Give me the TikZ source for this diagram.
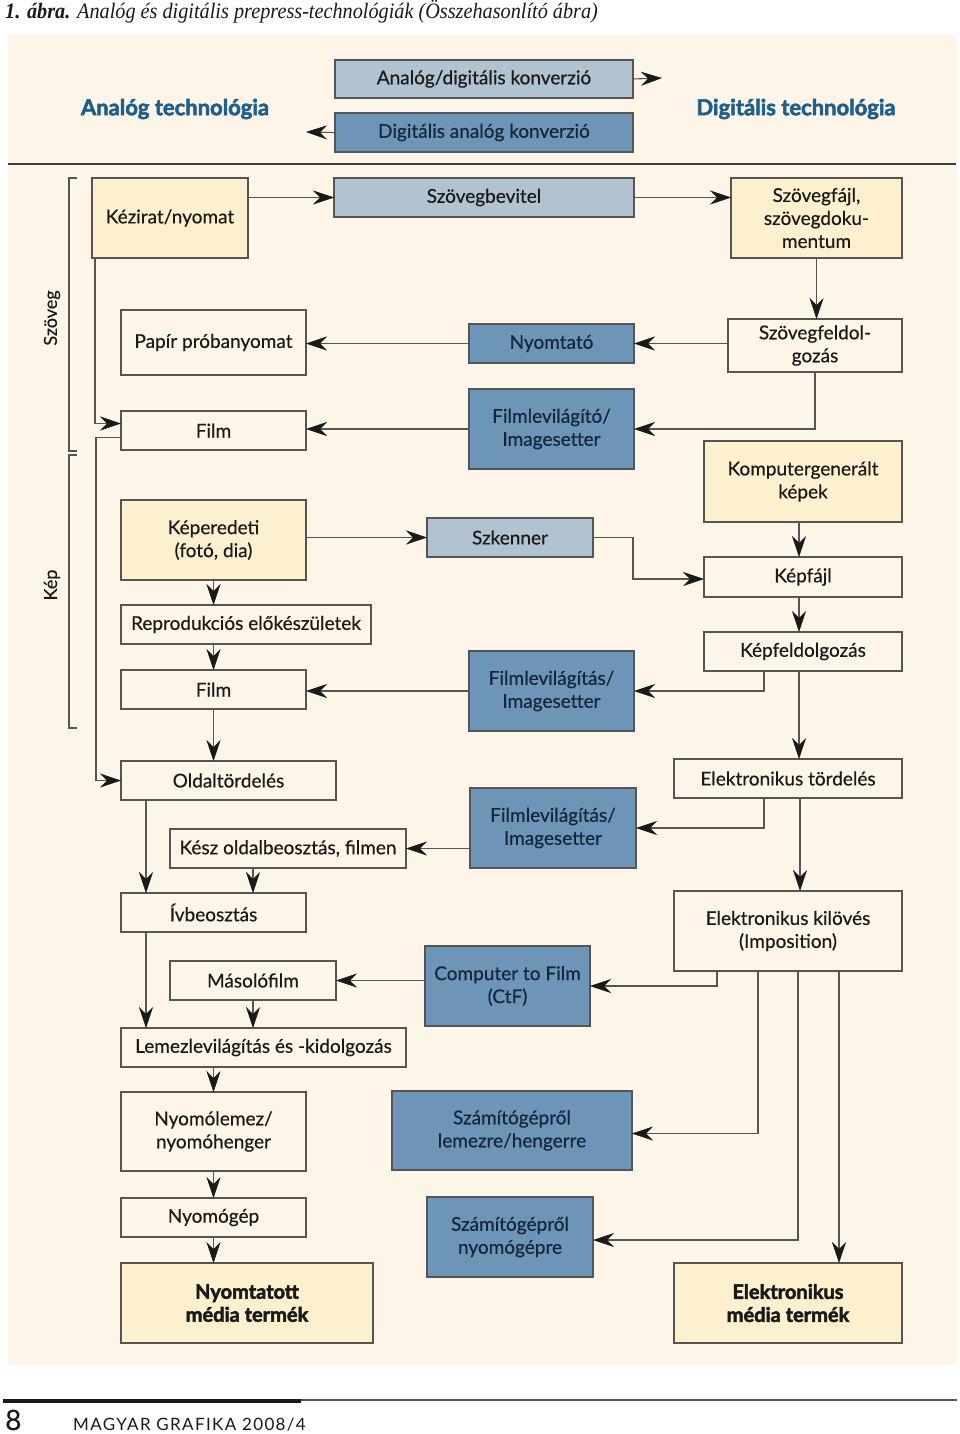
\documentclass[tikz,border=0pt]{standalone}
\usepackage{fontspec}
\setmainfont{Lato}[UprightFeatures={FakeBold=0.4},BoldFeatures={FakeBold=2.5}]
\newfontfamily\capfont{Liberation Serif}
\newfontfamily\footfont[LetterSpace=8]{Lato}
\usepackage{graphicx}
\usetikzlibrary{arrows.meta,calc}
\definecolor{bgcream}{HTML}{FDF5E8}
\definecolor{yel}{HTML}{FDF0CE}
\definecolor{lblue}{HTML}{B1C2D1}
\definecolor{dblue}{HTML}{6C95B8}
\definecolor{bord}{HTML}{555555}
\definecolor{hblue}{HTML}{1F5F8B}
\definecolor{ink}{HTML}{1A1A1A}
\definecolor{dink}{HTML}{15263A}
\newcommand\drawbox[7]{\node[#6,minimum width={#4-#2},minimum height={#5-#3}] (#1) at (#2,#3) {#7};}
\begin{document}
\begin{tikzpicture}[x=1pt,y=-1pt,
  box/.style={draw=bord,line width=1.1pt,anchor=north west,inner sep=1pt,outer sep=0pt,align=center,text=ink,font=\fontsize{19}{23}\selectfont},
  plain/.style={box,fill=bgcream},
  ybox/.style={box,fill=yel},
  lbbox/.style={box,fill=lblue},
  dbbox/.style={box,fill=dblue,text=dink},
  bbox/.style={ybox,font=\bfseries\fontsize{20}{23}\selectfont},
  arr/.style={draw=bord,line width=1.1pt,-{Stealth[length=21pt,width=14pt,inset=7pt,color=ink,fill=ink,line width=0.6pt]}},
  ln/.style={draw=bord,line width=1.1pt},
  hlab/.style={font=\bfseries\fontsize{22}{24}\selectfont,text=hblue},
  side/.style={font=\fontsize{18}{20}\selectfont,text=ink,rotate=90}
]
\fill[white] (0,0) rectangle (960,1434);
\useasboundingbox (0,0) rectangle (960,1434);
\fill[bgcream] (8,35) rectangle (957,1365);

% caption
\node[anchor=base west,inner sep=0,text=ink] (cap) at (5,19) {\capfont\fontsize{22}{24}\selectfont\scalebox{0.92}[1]{\textbf{\textit{1. ábra.}} \textit{Analóg és digitális prepress-technológiák (Összehasonlító ábra)}}};

% header
\drawbox{ad}{335}{60}{633}{98}{lbbox}{Analóg/digitális konverzió}
\drawbox{da}{335}{113}{633}{152}{dbbox}{Digitális analóg konverzió}
\coordinate (adend) at (662,78);
\coordinate (daend) at (306,132);
\draw[arr] (ad.east) -- (adend);
\draw[arr] (da.west) -- (daend);
\node[hlab] (anlab) at (175,109) {Analóg technológia};
\node[hlab] (diglab) at (796,109) {Digitális technológia};
\draw[line width=2pt,color=ink!85] (8,164) -- (956,164);

% side brackets
\draw[ln] (77,178) -- (69,178) -- (69,451) -- (77,451);
\draw[ln] (77,455) -- (69,455) -- (69,728) -- (77,728);
\node[side] (szlab) at (52,318) {Szöveg};
\node[side] (keplab) at (52,585) {Kép};

% boxes
\drawbox{kez}{92}{178}{248}{258}{ybox}{Kézirat/nyomat}
\drawbox{szbev}{334}{178}{634}{217}{lbbox}{Szövegbevitel}
\drawbox{szfajl}{731}{178}{902}{258}{ybox}{Szövegfájl,\\szövegdoku-\\mentum}
\drawbox{papir}{121}{310}{306}{375}{plain}{Papír próbanyomat}
\drawbox{nyomt}{469}{324}{634}{363}{dbbox}{Nyomtató}
\drawbox{sfeld}{728}{319}{902}{372}{plain}{Szövegfeldol-\\gozás}
\drawbox{film1}{121}{411}{306}{450}{plain}{Film}
\drawbox{fil1}{469}{389}{634}{469}{dbbox}{Filmlevilágító/\\Imagesetter}
\drawbox{komp}{704}{441}{902}{522}{ybox}{Komputergenerált\\képek}
\drawbox{kepe}{121}{500}{306}{580}{ybox}{Képeredeti\\(fotó, dia)}
\drawbox{szk}{427}{518}{593}{557}{lbbox}{Szkenner}
\drawbox{kfajl}{704}{557}{902}{597}{plain}{Képfájl}
\drawbox{repro}{121}{605}{371}{644}{plain}{Reprodukciós előkészületek}
\drawbox{kfeld}{704}{632}{902}{671}{plain}{Képfeldolgozás}
\drawbox{film2}{121}{670}{306}{709}{plain}{Film}
\drawbox{fil2}{469}{651}{634}{731}{dbbox}{Filmlevilágítás/\\Imagesetter}
\drawbox{oldal}{121}{761}{336}{800}{plain}{Oldaltördelés}
\drawbox{eltord}{674}{759}{902}{798}{plain}{Elektronikus tördelés}
\drawbox{fil3}{470}{788}{636}{868}{dbbox}{Filmlevilágítás/\\Imagesetter}
\drawbox{kesz}{170}{829}{406}{868}{plain}{Kész oldalbeosztás, filmen}
\drawbox{iv}{121}{893}{306}{932}{plain}{Ívbeosztás}
\drawbox{elkil}{674}{891}{902}{971}{plain}{Elektronikus kilövés\\(Imposition)}
\drawbox{masolo}{170}{961}{336}{1000}{plain}{Másolófilm}
\drawbox{ctf}{425}{946}{590}{1026}{dbbox}{Computer to Film\\(CtF)}
\drawbox{lemez}{121}{1028}{406}{1067}{plain}{Lemezlevilágítás és -kidolgozás}
\drawbox{nyl}{121}{1092}{306}{1171}{plain}{Nyomólemez/\\nyomóhenger}
\drawbox{szlem}{392}{1091}{632}{1170}{dbbox}{Számítógépről\\lemezre/hengerre}
\drawbox{ngep}{121}{1198}{306}{1237}{plain}{Nyomógép}
\drawbox{sznyom}{427}{1197}{593}{1277}{dbbox}{Számítógépről\\nyomógépre}
\drawbox{nyt}{121}{1263}{373}{1343}{bbox}{Nyomtatott\\média termék}
\drawbox{elm}{674}{1263}{902}{1343}{bbox}{Elektronikus\\média termék}

% connectors - text
\draw[arr] (szbev.west -| kez.east) -- (szbev.west);
\draw[arr] (szbev.east) -- (szbev.east -| szfajl.west);
\draw[arr] (szfajl.south) -- (szfajl.south |- sfeld.north);
\draw[arr] (nyomt.east -| sfeld.west) -- (nyomt.east);
\draw[arr] (nyomt.west) -- (nyomt.west -| papir.east);
\draw[arr] (sfeld.south) |- (fil1.east);
\draw[arr] (fil1.west) -- (fil1.west -| film1.east);
\draw[arr] ([xshift=3pt]kez.south west) |- ([yshift=7pt]film1.west);
\draw[arr] ([yshift=-7pt]film1.west) -- ++(-25,0) |- (oldal.west);

% connectors - image
\draw[arr] (szk.west -| kepe.east) -- (szk.west);
\draw[arr] (szk.east) -- ++(40,0) |- ([yshift=-2pt]kfajl.west);
\draw[arr] ([xshift=-4pt]komp.south) -- ([xshift=-4pt]kfajl.north);
\draw[arr] ([xshift=-4pt]kfajl.south) -- ([xshift=-4pt]kfeld.north);
\draw[arr] (kepe.south) -- (kepe.south |- repro.north);
\draw[arr] (film2.north |- repro.south) -- (film2.north);
\draw[arr] (fil2.west) -- (fil2.west -| film2.east);
\draw[arr] ([xshift=-39pt]kfeld.south) |- (fil2.east);
\draw[arr] (film2.south) -- (film2.south |- oldal.north);
\draw[arr] ([xshift=-4pt]kfeld.south) -- ([xshift=-4pt]kfeld.south |- eltord.north);

% connectors - layout
\draw[arr] (kesz.east -| fil3.west) -- (kesz.east);
\draw[arr] ([xshift=-24pt]eltord.south) |- (fil3.east);
\draw[arr] ([xshift=12pt]eltord.south) -- ([xshift=12pt]eltord.south |- elkil.north);
\draw[arr] ([xshift=25pt]oldal.south west) -- ([xshift=25pt]oldal.south west |- iv.north);
\draw[arr] ([xshift=83pt]kesz.south west) -- ([xshift=83pt]kesz.south west |- iv.north);
\draw[arr] ([xshift=25pt]iv.south west) -- ([xshift=25pt]iv.south west |- lemez.north);
\draw[arr] ([xshift=-71pt]elkil.south) |- (ctf.east);
\draw[arr] (masolo.east -| ctf.west) -- (masolo.east);
\draw[arr] (masolo.south) -- (masolo.south |- lemez.north);
\draw[arr] (nyl.north |- lemez.south) -- (nyl.north);
\draw[arr] (nyl.south) -- (ngep.north);
\draw[arr] (ngep.south) -- (ngep.south |- nyt.north);
\draw[arr] ([xshift=-30pt]elkil.south) |- ([yshift=-3pt]szlem.east);
\draw[arr] ([xshift=10pt]elkil.south) |- ([yshift=-3pt]sznyom.east);
\draw[arr] ([xshift=51pt]elkil.south) -- ([xshift=51pt]elkil.south |- elm.north);

% footer
\draw[line width=4pt,color=ink] (3,1401) -- (301,1401);
\draw[line width=1.3pt,color=bord] (301,1400) -- (957,1400);
\node[anchor=base west,inner sep=0,text=ink] (pnum) at (5,1430) {\fontsize{28}{30}\selectfont 8};
\node[anchor=base west,inner sep=0,text=ink] (journal) at (73,1430) {\footfont\fontsize{17}{18}\selectfont MAGYAR GRAFIKA 2008/4};
\end{tikzpicture}
\end{document}
